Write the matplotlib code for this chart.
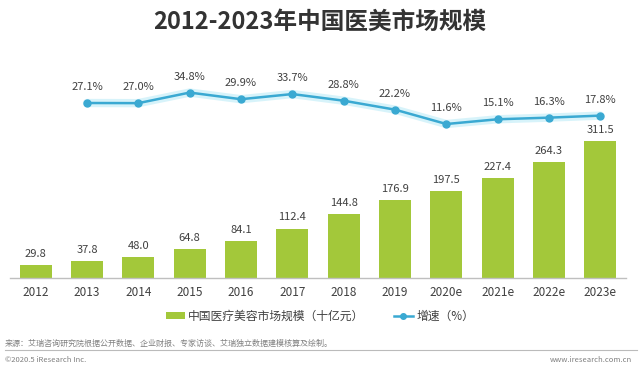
import numpy as np
import matplotlib.pyplot as plt
from matplotlib.patches import Patch
from matplotlib.lines import Line2D

plt.rcParams['font.family'] = ['Noto Sans CJK SC', 'DejaVu Sans']

years = ['2012', '2013', '2014', '2015', '2016', '2017', '2018', '2019',
         '2020e', '2021e', '2022e', '2023e']
market = [29.8, 37.8, 48.0, 64.8, 84.1, 112.4, 144.8, 176.9, 197.5, 227.4, 264.3, 311.5]
growth = [None, 27.1, 27.0, 34.8, 29.9, 33.7, 28.8, 22.2, 11.6, 15.1, 16.3, 17.8]

bar_color = '#A3C83A'
line_color = '#3AA9D2'
text_color = '#404040'

W, H = 640, 372
fig = plt.figure(figsize=(W / 100, H / 100), dpi=100)

# axes box in pixels: left 10, right 626, bottom 278, top 58
ax = fig.add_axes([10 / W, 1 - 278 / H, 616 / W, 220 / H])
x = np.arange(len(years))
ax.bar(x, market, width=0.62, color=bar_color, zorder=2)
ax.set_xlim(-0.5, len(years) - 0.5)
ax.set_ylim(0, 220 / 0.44)
for xi, v in zip(x, market):
    ax.text(xi, v + 14, f'{v:.1f}', ha='center', va='bottom', fontsize=8, color=text_color)

ax.set_xticks(x)
ax.set_xticklabels(years, fontsize=8.5, color=text_color)
ax.tick_params(axis='x', length=0, pad=6)
ax.set_yticks([])
for s in ['top', 'right', 'left']:
    ax.spines[s].set_visible(False)
ax.spines['bottom'].set_color('#BFBFBF')
ax.spines['bottom'].set_linewidth(1)

# growth line on its own scale
ax2 = ax.twinx()
ax2.set_ylim(-102, 60.3)
gx = [xi for xi, g in zip(x, growth) if g is not None]
gy = [g for g in growth if g is not None]
ax2.plot(gx, gy, color='#A8E6F5', lw=6, alpha=0.45, solid_capstyle='round', zorder=1)
ax2.plot(gx, gy, color=line_color, lw=1.8, marker='o', markersize=5,
         markerfacecolor=line_color, markeredgecolor=line_color, zorder=3)
for xi, g in zip(gx, gy):
    ax2.text(xi, g + 8, f'{g:.1f}%', ha='center', va='bottom', fontsize=8, color=text_color)
ax2.set_yticks([])
for s in ax2.spines.values():
    s.set_visible(False)

fig.text(0.5, 1 - 22 / H, '2012-2023年中国医美市场规模', ha='center', va='center',
         fontsize=17, fontweight='bold', color='#333333')

handles = [Patch(facecolor=bar_color, edgecolor='none'),
           Line2D([0], [0], color=line_color, lw=1.8, marker='o', markersize=4)]
fig.legend(handles, ['中国医疗美容市场规模（十亿元）', '增速（%）'], loc='center',
           bbox_to_anchor=(0.5, 1 - 316 / H), ncol=2, frameon=False, fontsize=8.5,
           labelcolor=text_color, handlelength=1.6, handleheight=0.6, columnspacing=2.5,
           handletextpad=0.3)

fig.text(5 / W, 1 - 343 / H, '来源：艾瑞咨询研究院根据公开数据、企业财报、专家访谈、艾瑞独立数据建模核算及绘制。',
         fontsize=5.8, color='#808080', va='center')
fig.add_artist(Line2D([5 / W, 637 / W], [1 - 350 / H, 1 - 350 / H], color='#BBBBBB', lw=0.8))
fig.text(5 / W, 1 - 360 / H, '©2020.5 iResearch Inc.', fontsize=5.5, color='#808080', va='center')
fig.text(632 / W, 1 - 360 / H, 'www.iresearch.com.cn', fontsize=5.5, color='#808080',
         va='center', ha='right')

fig.savefig('out.png', dpi=100, facecolor='white')
